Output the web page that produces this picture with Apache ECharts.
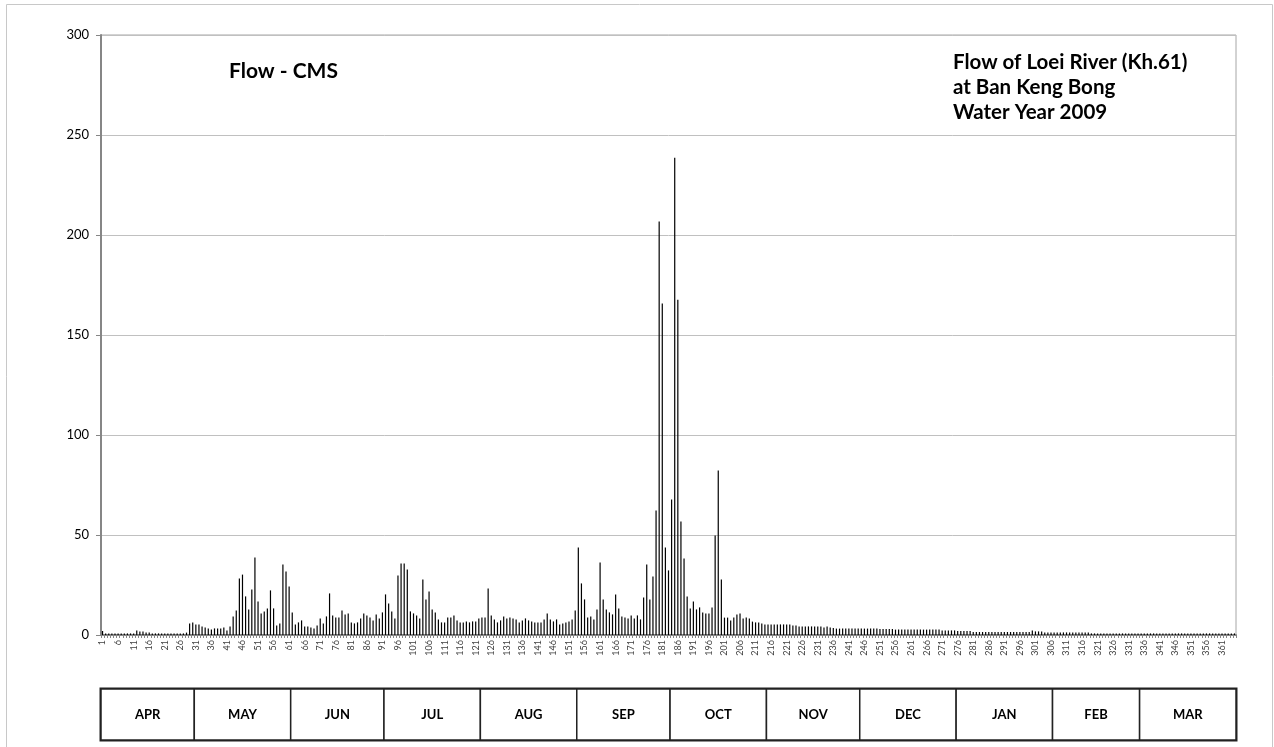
<!DOCTYPE html>
<html>
<head>
<meta charset="utf-8">
<script src="https://cdn.jsdelivr.net/npm/echarts@6/dist/echarts.min.js"></script>
<style>html,body{margin:0;padding:0;background:#fff;}#c{width:1274px;height:747px;}</style>
</head>
<body>
<div id="c"></div>
<script>
// Daily flow (CMS), water year 2009, day 1 = 1 April
var flow = [
  // APR (1-30)
  2.0,0.8,0.8,0.8,0.8,0.8,0.8,0.8,0.8,0.8,0.8,2.2,1.7,1.7,1.3,1.3,0.8,0.8,0.8,0.8,
  0.8,0.8,0.8,0.8,0.8,0.8,0.8,1.2,5.8,6.3,
  // MAY (31-61)
  5.3,5.3,4.3,3.8,3.3,2.8,3.3,3.3,3.3,3.8,2.3,4.3,9.3,12.3,28.3,30.2,19.3,12.8,22.8,38.8,
  16.8,10.8,11.8,13.3,22.3,13.3,4.8,5.8,35.3,31.8,24.3,
  // JUN (62-91)
  11.3,5.3,6.3,7.3,4.3,4.3,3.8,3.3,4.8,8.3,5.8,9.3,20.8,9.8,8.8,8.8,12.3,10.3,10.8,6.3,
  5.8,6.3,8.3,10.8,9.8,8.8,7.3,10.3,8.3,11.3,
  // JUL (92-122)
  20.3,15.8,11.8,8.3,29.8,35.8,35.8,32.8,11.8,10.8,9.8,8.3,27.8,17.8,21.8,12.8,11.3,7.8,6.3,6.3,
  8.8,8.8,9.8,7.3,6.3,6.3,6.8,6.3,6.8,6.8,8.3,
  // AUG (123-153)
  8.8,8.8,23.3,9.8,7.8,6.3,7.3,9.3,8.3,8.8,8.3,7.8,6.3,7.3,8.3,7.3,6.8,6.3,6.3,6.3,
  7.8,10.8,7.8,6.8,7.8,5.3,5.8,6.3,6.8,7.8,12.3,
  // SEP (154-183)
  43.8,25.8,17.8,8.8,9.3,7.8,12.8,36.3,17.8,12.8,11.3,10.3,20.3,13.3,9.3,8.8,8.3,9.8,8.3,9.8,
  7.8,18.8,35.3,17.8,29.3,62.3,206.7,165.7,43.8,32.3,
  // OCT (184-214)
  67.8,238.6,167.6,56.8,38.3,19.3,13.3,16.8,12.8,13.8,11.3,10.8,10.8,13.8,49.8,82.2,27.8,8.7,8.7,7.3,
  8.7,10.3,10.7,8.3,8.7,8.3,6.7,6.3,6.3,5.8,5.3,
  // NOV (215-244)
  5.3,5.3,5.3,5.3,5.3,5.3,5.3,5.3,4.8,4.8,4.3,4.3,4.3,4.3,4.3,4.3,4.3,4.3,3.8,4.3,
  3.8,3.5,3.2,3.2,3.2,3.2,3.2,3.2,3.2,3.2,
  // DEC (245-275)
  3.2,3.2,3.2,3.2,3.2,3.2,3.0,3.0,3.0,3.0,3.0,2.7,2.7,2.7,2.7,2.7,2.7,2.7,2.7,2.7,
  2.7,2.7,2.7,2.7,2.7,2.7,2.3,2.3,2.3,2.3,2.3,
  // JAN (276-306)
  2.0,2.0,2.0,2.0,2.0,1.5,1.5,1.5,1.5,1.5,1.5,1.5,1.5,1.5,1.5,1.5,1.5,1.5,1.5,1.5,
  1.5,1.5,1.5,1.5,2.2,1.8,1.8,1.8,1.3,1.3,1.3,
  // FEB (307-334)
  1.3,1.3,1.3,1.3,1.3,1.3,1.3,1.3,1.3,1.3,1.3,1.3,0.8,0.8,0.8,0.8,0.8,0.8,0.8,0.8,
  0.8,0.8,0.8,0.8,0.8,0.8,0.8,0.8,
  // MAR (335-365)
  0.8,0.8,0.8,0.8,0.8,0.8,0.8,0.8,0.8,0.8,0.8,0.8,0.8,0.8,0.8,0.8,0.8,0.8,0.8,0.8,
  0.8,0.8,0.8,0.8,0.8,0.8,0.8,0.8,0.8,0.8,0.8
];
var months = ['APR','MAY','JUN','JUL','AUG','SEP','OCT','NOV','DEC','JAN','FEB','MAR'];
var monthDays = [30,31,30,31,31,30,31,30,31,31,28,31];
var yTicks = {min: 0, max: 300, interval: 50};
var titleLeft = 'Flow - CMS';
var titleRight = 'Flow of Loei River (Kh.61)\nat Ban Keng Bong\nWater Year 2009';

var days = [];
for (var i = 0; i < flow.length; i++) days.push(String(i + 1));
var monthRows = [];
var acc = 0;
for (var m = 0; m < months.length; m++) {
  monthRows.push([acc, acc + monthDays[m], months[m]]);
  acc += monthDays[m];
}

var FONT = 'Lato, "Open Sans", sans-serif';
var chart = echarts.init(document.getElementById('c'), null, {renderer: 'canvas'});
chart.setOption({
  backgroundColor: '#fff',
  animation: false,
  title: [
    {text: titleLeft, left: 229, top: 59, padding: 0,
     textStyle: {fontFamily: FONT, fontWeight: 'bold', fontSize: 21, color: '#000', lineHeight: 24}},
    {text: titleRight, left: 953, top: 50, padding: 0,
     textStyle: {fontFamily: FONT, fontWeight: 'bold', fontSize: 20.5, color: '#000', lineHeight: 25}}
  ],
  graphic: [
    {type: 'rect', silent: true, z: -10,
     shape: {x: 6.5, y: 4.5, width: 1266, height: 760},
     style: {fill: null, stroke: '#c8c8c8', lineWidth: 1}}
  ],
  grid: [
    {left: 101, right: 38, top: 35, bottom: 112, show: true, borderColor: '#a6a6a6', borderWidth: 1},
    {left: 101, right: 38, top: 689, height: 51, show: true, borderColor: '#222', borderWidth: 3,
     backgroundColor: '#fff'}
  ],
  xAxis: [
    {type: 'category', gridIndex: 0, data: days,
     axisLine: {lineStyle: {color: '#868686', width: 2}},
     axisTick: {show: true, interval: 0, length: 3, lineStyle: {color: '#868686'}},
     axisLabel: {interval: 4, rotate: 90, fontSize: 9, color: '#404040', fontFamily: FONT, margin: 5}},
    {type: 'value', gridIndex: 1, min: 0, max: acc, show: false}
  ],
  yAxis: [
    {type: 'value', gridIndex: 0, min: yTicks.min, max: yTicks.max, interval: yTicks.interval,
     axisLine: {show: true, lineStyle: {color: '#868686', width: 2}},
     axisTick: {show: true, length: 5, lineStyle: {color: '#868686'}},
     axisLabel: {fontSize: 13, color: '#000', fontFamily: FONT, margin: 12},
     splitLine: {lineStyle: {color: '#c0c0c0', width: 1}}},
    {type: 'value', gridIndex: 1, min: 0, max: 1, show: false}
  ],
  series: [
    {type: 'bar', xAxisIndex: 0, yAxisIndex: 0, data: flow, barWidth: 1.2,
     itemStyle: {color: '#000'}},
    {type: 'custom', xAxisIndex: 1, yAxisIndex: 1, data: monthRows,
     renderItem: function (params, api) {
       var p0 = api.coord([api.value(0), 1]);
       var p1 = api.coord([api.value(1), 0]);
       return {type: 'group', children: [
         {type: 'rect', shape: {x: p0[0], y: p0[1], width: p1[0] - p0[0], height: p1[1] - p0[1]},
          style: {fill: '#fff', stroke: '#222', lineWidth: 1.5}},
         {type: 'text', style: {text: monthRows[params.dataIndex][2],
          x: (p0[0] + p1[0]) / 2, y: (p0[1] + p1[1]) / 2, align: 'center', verticalAlign: 'middle',
          font: 'bold 13px ' + FONT, fill: '#000'}}
       ]};
     }}
  ]
});
</script>
</body>
</html>
